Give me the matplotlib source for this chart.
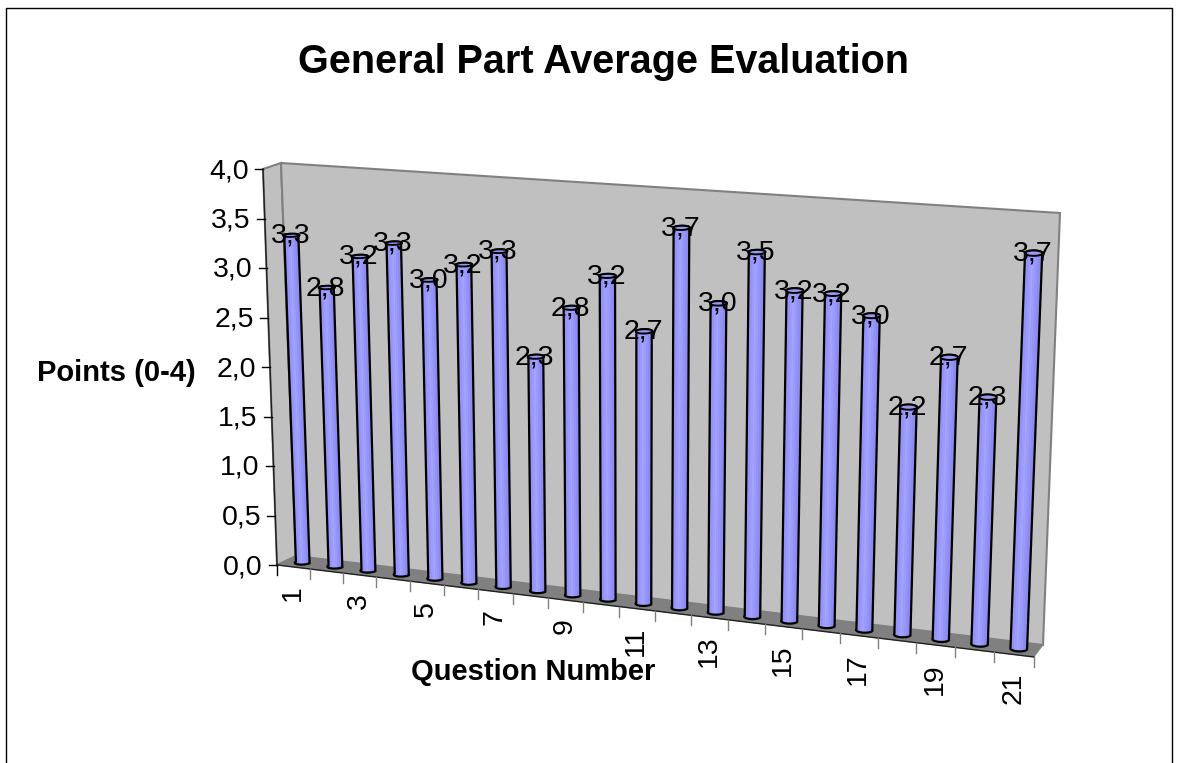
import numpy as np
import matplotlib
matplotlib.use('Agg')
import matplotlib.pyplot as plt
from matplotlib.patches import Polygon

plt.rcParams['font.family'] = ['Liberation Sans', 'DejaVu Sans']

# Chart values, bar heights
questions = list(range(1, 22))
points = [3.31, 2.81, 3.15, 3.31, 2.97, 3.15, 3.31, 2.30, 2.81, 3.15, 2.64,
          3.67, 2.97, 3.49, 3.15, 3.15, 2.97, 2.14, 2.64, 2.30, 3.67]
point_labels = ['3,3', '2,8', '3,2', '3,3', '3,0', '3,2', '3,3', '2,3', '2,8', '3,2', '2,7',
                '3,7', '3,0', '3,5', '3,2', '3,2', '3,0', '2,2', '2,7', '2,3', '3,7']
y_ticks = [0.0, 0.5, 1.0, 1.5, 2.0, 2.5, 3.0, 3.5, 4.0]
x_labels = [1, 3, 5, 7, 9, 11, 13, 15, 17, 19, 21]

title = 'General Part Average Evaluation'
x_title = 'Question Number'
y_title = 'Points (0-4)'

# Box corners in pixels: front/back, bottom/top, left/right
FBL = np.array([277.0, 565.0])
FTL = np.array([263.0, 169.0])
FBR = np.array([1034.0, 657.0])
FTR = np.array([1051.0, 225.0])
BBL = np.array([296.0, 556.0])
BTL = np.array([281.0, 163.0])
BBR = np.array([1043.0, 645.0])
BTR = np.array([1060.0, 213.0])
YMAX = 4.0
NCAT = len(questions)
PERSP = 1.105


# Data to pixels, q is the category position, d the depth (0 front, 1 back)
def proj(q, d, v):
    s = np.asarray(q, dtype=float) / NCAT
    u = s / (PERSP + (1 - PERSP) * s)
    w = np.asarray(v, dtype=float) / YMAX
    d = np.asarray(d, dtype=float)
    out = []
    for i in range(2):
        front = (FBL[i] * (1 - u) + FBR[i] * u) * (1 - w) + (FTL[i] * (1 - u) + FTR[i] * u) * w
        back = (BBL[i] * (1 - u) + BBR[i] * u) * (1 - w) + (BTL[i] * (1 - u) + BTR[i] * u) * w
        out.append(front * (1 - d) + back * d)
    return np.column_stack(out)


def face(a, b, c, d, color, edge='none', lw=0):
    ax.add_patch(Polygon([a, b, c, d], closed=True, facecolor=color, edgecolor=edge, linewidth=lw))


fig = plt.figure(figsize=(11.85, 7.63), dpi=100)
ax = fig.add_axes([0, 0, 1, 1])
ax.set_xlim(0, 1185)
ax.set_ylim(763, 0)
ax.axis('off')

# Outer frame, runs off the bottom of the picture
ax.plot([6, 6, 1172, 1172], [763, 8, 8, 763], color='black', lw=1)

# Walls and floor
face(FBL, FTL, BTL, BBL, '#c0c0c0', '#808080', 1.5)
face(BBL, BTL, BTR, BBR, '#c0c0c0', '#808080', 1.5)
face(FBL, BBL, BBR, FBR, '#808080', '#808080', 0.5)

# Axis lines
ax.plot(*zip(FBL, FTL), color='#202020', lw=1)
ax.plot(*zip(FBL, FBR), color='#202020', lw=1)

# Y ticks and labels
for t in y_ticks:
    p = proj(0, 0, t)[0]
    ax.plot([p[0] - 8, p[0]], [p[1], p[1]], color='black', lw=1)
    ax.text(p[0] - 14, p[1] + 2, ('%.1f' % t).replace('.', ','), ha='right', va='center', fontsize=20.5)

# X ticks and labels
for q in range(NCAT + 1):
    p = proj(q, 0, 0)[0]
    ax.plot([p[0], p[0]], [p[1], p[1] + 10], color='#808080' if q else 'black', lw=1)
for lab in x_labels:
    p = proj(lab - 0.5, 0, 0)[0]
    ax.text(p[0] - 0.5, p[1] + 18, str(lab), rotation=90, ha='center', va='top', fontsize=20.5)

# Cylinders
RQ = 0.21
RD = 0.22
t_low = np.linspace(np.pi, 2 * np.pi, 24)
t_high = np.linspace(0, np.pi, 24)
t_all = np.linspace(0, 2 * np.pi, 48)
strips = ['#8c8cf0', '#9494f8', '#9c9cff', '#a4a4ff', '#9c9cff', '#9494f8', '#8c8cf0', '#8686e8']
for i, val in enumerate(points):
    q0 = i + 0.5
    low = proj(q0 + RQ * np.cos(t_low), 0.5 + RD * np.sin(t_low), 0 * t_low)
    high = proj(q0 + RQ * np.cos(t_high), 0.5 + RD * np.sin(t_high), val + 0 * t_high)
    outline = np.vstack([low, high])
    body = Polygon(outline, closed=True, facecolor='#9090f0', edgecolor='none', zorder=3)
    ax.add_patch(body)
    # shading, drawn as strips clipped to the body
    edges = q0 + RQ * np.linspace(-1.1, 1.1, len(strips) + 1)
    for k, col in enumerate(strips):
        pts = proj([edges[k], edges[k + 1], edges[k + 1], edges[k]], [0.5] * 4, [-0.2, -0.2, val + 0.2, val + 0.2])
        st = Polygon(pts, closed=True, facecolor=col, edgecolor='none', zorder=3)
        ax.add_patch(st)
        st.set_clip_path(body)
    ax.add_patch(Polygon(outline, closed=True, fill=False, edgecolor='black', linewidth=1.6, zorder=4))
    cap = proj(q0 + RQ * np.cos(t_all), 0.5 + RD * np.sin(t_all), val + 0 * t_all)
    ax.add_patch(Polygon(cap, closed=True, facecolor='#9898f0', edgecolor='black', linewidth=1.4, zorder=4))

# Value labels sit on the bar tops
for i, val in enumerate(points):
    p = proj(i + 0.5, 0.5, val)[0]
    ax.text(p[0] - 1, p[1] + 0.5, point_labels[i], ha='center', va='center', fontsize=20.5, zorder=6)

# Titles
ax.text(603, 62, title, ha='center', va='center', fontsize=28.5, fontweight='bold')
ax.text(116, 373, y_title, ha='center', va='center', fontsize=21, fontweight='bold')
ax.text(533, 672, x_title, ha='center', va='center', fontsize=21, fontweight='bold')

fig.savefig('out.png', dpi=100)
